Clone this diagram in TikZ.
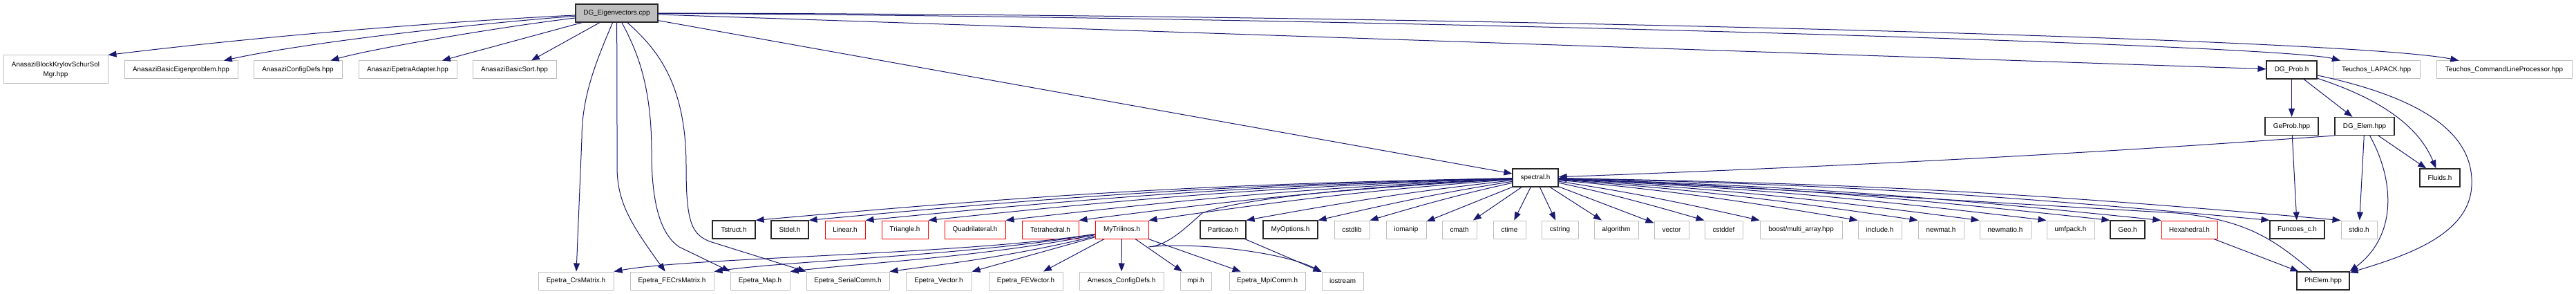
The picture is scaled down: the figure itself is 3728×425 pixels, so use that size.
\documentclass[tikz,border=0pt]{standalone}
\usepackage{fontspec}
\setmainfont{Liberation Sans}
\usepackage{tikz}
\usetikzlibrary{arrows.meta,calc}
\definecolor{EdgeBlue}{RGB}{25,25,112}
\definecolor{BoxGray}{RGB}{191,191,191}
\definecolor{BoxRed}{RGB}{255,0,0}
\definecolor{BoxDark}{RGB}{40,40,40}
\tikzset{
  filebox/.style={draw,rectangle,inner sep=0pt,minimum height=26pt,font=\fontsize{9.9}{14}\selectfont},
  extbox/.style={filebox,draw=BoxGray,line width=1pt},
  docbox/.style={filebox,draw=BoxDark,line width=1.15pt},
  cutbox/.style={filebox,draw=BoxRed,line width=1pt},
  rootbox/.style={filebox,draw=BoxDark,fill=BoxGray,line width=1.15pt},
  incl/.style={->,draw=EdgeBlue,line width=1pt}
}
\begin{document}
\begin{tikzpicture}[>={Triangle[length=12pt,width=9pt]},x=1pt,y=-1pt]
\path[use as bounding box,fill=white] (0,0) rectangle (3728,425);
% file and first row
\node[rootbox,minimum width=119pt] (root) at (892.5,19) {DG\_Eigenvectors.cpp};
\node[extbox,minimum width=151pt,minimum height=41pt,align=center] (abk) at (80.5,100.5) {AnasaziBlockKrylovSchurSol\\Mgr.hpp};
\node[extbox,minimum width=164pt] (abe) at (262,101) {AnasaziBasicEigenproblem.hpp};
\node[extbox,minimum width=128pt] (acd) at (431,101) {AnasaziConfigDefs.hpp};
\node[extbox,minimum width=142pt] (aea) at (590,101) {AnasaziEpetraAdapter.hpp};
\node[extbox,minimum width=121pt] (abs) at (744.5,101) {AnasaziBasicSort.hpp};
\node[docbox,minimum width=73pt] (prob) at (3316.5,101) {DG\_Prob.h};
\node[extbox,minimum width=126pt] (lapack) at (3439,101) {Teuchos\_LAPACK.hpp};
\node[extbox,minimum width=196pt] (clp) at (3624,101) {Teuchos\_CommandLineProcessor.hpp};
\node[docbox,minimum width=77pt] (geprob) at (3316.5,182.5) {GeProb.hpp};
\node[docbox,minimum width=86pt] (elem) at (3422,182.5) {DG\_Elem.hpp};
\node[docbox,minimum width=66pt] (spectral) at (2222,257) {spectral.h};
\node[docbox,minimum width=58pt] (fluids) at (3531,257) {Fluids.h};
% headers of spectral.h
\node[docbox,minimum width=62pt] (tstruct) at (1062,332) {Tstruct.h};
\node[docbox,minimum width=54pt] (stdel) at (1143,332) {Stdel.h};
\node[cutbox,minimum width=58pt] (linear) at (1223,332) {Linear.h};
\node[cutbox,minimum width=67pt] (triangle) at (1309.5,332) {Triangle.h};
\node[cutbox,minimum width=88pt] (quad) at (1411,332) {Quadrilateral.h};
\node[cutbox,minimum width=82pt] (tetra) at (1520,332) {Tetrahedral.h};
\node[cutbox,minimum width=77pt] (mytril) at (1623.5,332) {MyTrilinos.h};
\node[docbox,minimum width=66pt] (particao) at (1770,332) {Particao.h};
\node[docbox,minimum width=79pt] (myopt) at (1867.5,332) {MyOptions.h};
\node[extbox,minimum width=51pt] (cstdlib) at (1956.5,332) {cstdlib};
\node[extbox,minimum width=58pt] (iomanip) at (2035,332) {iomanip};
\node[extbox,minimum width=50pt] (cmath) at (2112,332) {cmath};
\node[extbox,minimum width=47pt] (ctime) at (2184.5,332) {ctime};
\node[extbox,minimum width=53pt] (cstring) at (2257.5,332) {cstring};
\node[extbox,minimum width=64pt] (algorithm) at (2339,332) {algorithm};
\node[extbox,minimum width=50pt] (vector) at (2419,332) {vector};
\node[extbox,minimum width=55pt] (cstddef) at (2494.5,332) {cstddef};
\node[extbox,minimum width=119pt] (boost) at (2606.5,332) {boost/multi\_array.hpp};
\node[extbox,minimum width=63pt] (include) at (2720.5,332) {include.h};
\node[extbox,minimum width=66pt] (newmat) at (2809,332) {newmat.h};
\node[extbox,minimum width=74pt] (newmatio) at (2902,332) {newmatio.h};
\node[extbox,minimum width=69pt] (umfpack) at (2996.5,332) {umfpack.h};
\node[docbox,minimum width=50pt] (geo) at (3079,332) {Geo.h};
\node[cutbox,minimum width=81pt] (hexa) at (3168.5,332) {Hexahedral.h};
\node[docbox,minimum width=79pt] (funcoes) at (3324.5,332) {Funcoes\_c.h};
\node[extbox,minimum width=52pt] (stdio) at (3414,332) {stdio.h};
% bottom row
\node[extbox,minimum width=109pt] (crs) at (833.5,406) {Epetra\_CrsMatrix.h};
\node[extbox,minimum width=121pt] (fecrs) at (972.5,406) {Epetra\_FECrsMatrix.h};
\node[extbox,minimum width=86pt] (map) at (1100,406) {Epetra\_Map.h};
\node[extbox,minimum width=120pt] (serial) at (1227,406) {Epetra\_SerialComm.h};
\node[extbox,minimum width=95pt] (vec) at (1358.5,406) {Epetra\_Vector.h};
\node[extbox,minimum width=107pt] (fevec) at (1484.5,406) {Epetra\_FEVector.h};
\node[extbox,minimum width=122pt] (amesos) at (1623,406) {Amesos\_ConfigDefs.h};
\node[extbox,minimum width=45pt] (mpi) at (1730.5,406) {mpi.h};
\node[extbox,minimum width=110pt] (mpicomm) at (1834,406) {Epetra\_MpiComm.h};
\node[extbox,minimum width=60pt] (iostream) at (1943,406) {iostream};
\node[docbox,minimum width=76pt] (phelem) at (3362,406) {PhElem.hpp};
% DG_Eigenvectors.cpp
\draw[incl] (root) .. controls (650,31) and (400,50) .. (abk.north east);
\draw[incl] (root) .. controls (700,33) and (450,60) .. (abe);
\draw[incl] (root) .. controls (730,38) and (540,70) .. (acd);
\draw[incl] (root) -- (aea);
\draw[incl] (root) -- (abs);
\draw[incl] (root) .. controls (862,90) and (842,140) .. (842,200) -- (crs);
\draw[incl] (root) .. controls (893,100) and (893,180) .. (893,240) .. controls (893,290) and (910,320) .. (fecrs);
\draw[incl] (root) .. controls (920,70) and (943,120) .. (943,220) .. controls (943,300) and (958,340) .. (983,357) -- (map.north west);
\draw[incl] (root) .. controls (950,70) and (993,120) .. (993,240) .. controls (993,320) and (1000,340) .. (1030,350) -- (serial.north west);
\draw[incl] (root) -- (spectral);
\draw[incl] (root) -- (prob);
\draw[incl] (root) .. controls (2000,25) and (3300,65) .. (lapack);
\draw[incl] (root) .. controls (2000,20) and (3400,55) .. (clp);
% DG_Prob.h, DG_Elem.hpp
\draw[incl] (prob) -- (geprob);
\draw[incl] (prob) -- (elem);
\draw[incl] (prob) .. controls (3420,135) and (3495,170) .. (fluids);
\draw[incl] (prob) .. controls (3500,140) and (3580,190) .. (3577,267) .. controls (3575,340) and (3480,370) .. (phelem);
\draw[incl] (geprob) -- (funcoes);
\draw[incl] (elem.south west) .. controls (3250,205) and (2900,232) .. (spectral);
\draw[incl] (elem) -- (stdio);
\draw[incl] (elem) .. controls (3465,260) and (3470,340) .. (phelem.north east);
\draw[incl] (elem) -- (fluids);
\draw[incl] (hexa) -- (phelem);
\draw[incl] (phelem) .. controls (3290,345) and (3250,318) .. (3150,308) .. controls (2800,288) and (2450,266) .. (spectral);
% spectral.h
\foreach \t in {tstruct,stdel,linear,triangle,quad,tetra,mytril,particao,myopt,cstdlib}
  \draw[incl] (spectral) .. controls ($(spectral)!0.4!-2:(\t.north east)$) and ($(\t.north east)!0.4!2:(spectral)$) .. (\t.north east);
\foreach \t in {iomanip,cmath,ctime,cstring,algorithm,vector}
  \draw[incl] (spectral) -- (\t);
\foreach \t in {cstddef,boost,include,newmat,newmatio,umfpack,geo,hexa,funcoes,stdio}
  \draw[incl] (spectral) .. controls ($(spectral)!0.4!2:(\t.north west)$) and ($(\t.north west)!0.4!-2:(spectral)$) .. (\t.north west);
\draw[incl] (spectral) .. controls (2000,268) and (1800,285) .. (1740,308) .. controls (1715,330) and (1690,355) .. (1662,357) .. controls (1720,350) and (1850,362) .. (iostream.north west);
\draw[incl] (particao) -- (iostream);
% MyTrilinos.h
\draw[incl] (mytril) .. controls (1400,368) and (1000,372) .. (crs.north east);
\draw[incl] (mytril) .. controls (1400,370) and (1150,376) .. (fecrs.north east);
\draw[incl] (mytril) .. controls (1420,372) and (1250,380) .. (map.north east);
\draw[incl] (mytril) .. controls (1460,372) and (1350,384) .. (serial.north east);
\draw[incl] (mytril) -- (vec);
\draw[incl] (mytril) -- (fevec);
\draw[incl] (mytril) -- (amesos);
\draw[incl] (mytril) -- (mpi);
\draw[incl] (mytril) -- (mpicomm);
\end{tikzpicture}
\end{document}
